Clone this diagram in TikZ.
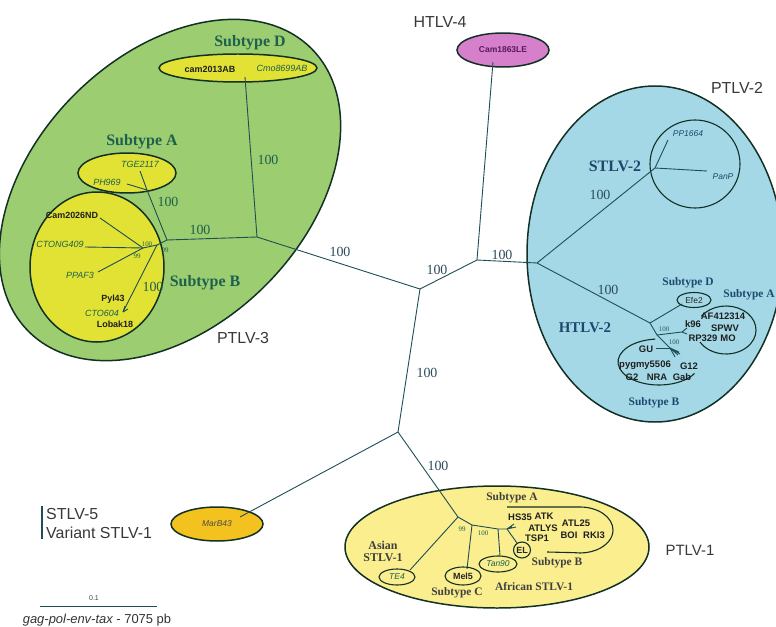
\documentclass[tikz,border=0pt]{standalone}
\usepackage{fontspec}
\setmainfont{Liberation Serif}
\newfontfamily\arialf{Liberation Sans}
\usetikzlibrary{shapes.geometric}
\newcommand\fsz[1]{\fontsize{#1}{#1}\selectfont}
\definecolor{ptlvthree}{RGB}{156,205,112}
\definecolor{subyel}{RGB}{226,226,52}
\definecolor{ptlvtwo}{RGB}{164,216,230}
\definecolor{ptlvone}{RGB}{250,238,142}
\definecolor{htlvfour}{RGB}{214,128,204}
\definecolor{stlvfive}{RGB}{244,194,30}
\definecolor{rim}{RGB}{18,48,36}
\definecolor{branchc}{RGB}{30,78,86}
\definecolor{greenlbl}{RGB}{30,96,78}
\definecolor{bluelbl}{RGB}{30,72,110}
\definecolor{bootc}{RGB}{45,75,90}
\definecolor{purplbl}{RGB}{90,25,95}
\tikzset{
  branch/.style={draw=branchc, line width=0.9pt},
  clade/.style={ellipse, draw=rim, line width=1.5pt, inner sep=0pt},
  ring/.style={ellipse, draw=rim, line width=1.1pt, inner sep=0pt},
  boot/.style={font=\fsz{14}, text=bootc, inner sep=0pt},
  bootsm/.style={font=\fsz{7}, text=greenlbl, inner sep=0pt},
  subt/.style={font=\bfseries\fsz{16}, text=greenlbl, inner sep=0pt},
  subsm/.style={font=\bfseries\fsz{11.5}, inner sep=0pt},
  taxb/.style={font=\arialf\bfseries\fsz{9}, text=black!88, inner sep=0pt},
  taxi/.style={font=\arialf\itshape\fsz{9}, text=greenlbl, inner sep=0pt},
  group/.style={font=\arialf\fsz{16}, text=black!78, inner sep=0pt}
}
\begin{document}
\begin{tikzpicture}[x=1bp, y=-1bp]
\fill[white] (0,0) rectangle (776,627);
\useasboundingbox (0,0) rectangle (776,627);

% clades
\node[clade, fill=ptlvthree, minimum width=400bp, minimum height=270bp, rotate=45] (ptlv3) at (170,190) {};
\node[clade, fill=ptlvtwo, minimum width=256bp, minimum height=336bp] (ptlv2) at (655,254) {};
\node[clade, fill=ptlvone, minimum width=304bp, minimum height=122bp] (ptlv1) at (497,547) {};
\node[clade, fill=subyel, minimum width=158bp, minimum height=28bp] (yelD) at (238,68) {};
\node[clade, fill=subyel, minimum width=98bp, minimum height=40bp] (yelA) at (127,173) {};
\node[clade, fill=subyel, minimum width=134bp, minimum height=150bp] (yelB) at (97,267) {};
\node[clade, fill=htlvfour, minimum width=92bp, minimum height=34bp, font=\arialf\bfseries\fsz{8.5}, text=purplbl] (cam1863) at (503,50) {Cam1863LE};
\node[clade, fill=stlvfive, minimum width=92bp, minimum height=34bp, font=\arialf\itshape\fsz{8.5}, text=black!70] (marb) at (217,524) {MarB43};
\node[ring, minimum width=90bp, minimum height=88bp] (stlv2ring) at (695,164) {};

% tree nodes
\coordinate (c0) at (420,289);
\coordinate (n1) at (477,260);
\coordinate (l4) at (493,62);
\coordinate (n2) at (537,263);
\coordinate (n3) at (655,168);
\coordinate (lpp) at (668,140);
\coordinate (lpan) at (707,171);
\coordinate (n4) at (650,323);
\coordinate (lefe) at (682,304);
\coordinate (n5) at (657,335);
\coordinate (lk96) at (682,332);
\coordinate (n6) at (670,348);
\coordinate (lgu) at (656,348);
\coordinate (n7) at (257,237);
\coordinate (ld) at (245,77);
\coordinate (n8) at (167,240);
\coordinate (n9) at (147,190);
\coordinate (ltge) at (140,171);
\coordinate (lph) at (127,184);
\coordinate (n10) at (157,245);
\coordinate (n11) at (143,248);
\coordinate (lcam) at (100,218);
\coordinate (lcton) at (85,247);
\coordinate (lppaf) at (98,272);
\coordinate (lcto) at (123,312);
\coordinate (n13) at (398,432);
\coordinate (lmar) at (240,517);
\coordinate (n14) at (458,517);
\coordinate (lte) at (410,570);
\coordinate (n15) at (472,525);
\coordinate (lmel) at (467,569);
\coordinate (n16) at (498,529);
\coordinate (ltan) at (500,556);
\coordinate (n17) at (507,529);
\coordinate (lel) at (517,543);

% branches
\draw[branch] (c0) -- (n1);
\draw[branch] (n1) -- (l4);
\draw[branch] (n1) -- (n2);
\draw[branch] (n2) -- (n3);
\draw[branch] (n3) -- (lpp);
\draw[branch] (n3) -- (lpan);
\draw[branch] (n2) -- (n4);
\draw[branch] (n4) -- (lefe);
\draw[branch] (n4) -- (n5) -- (n6);
\draw[branch] (n5) -- (lk96);
\draw[branch] (lk96) -- ++(5,-4) (lk96) -- ++(5,2);
\draw[branch] (lgu) -- (n6);
\draw[branch] (n6) -- ++(9,4) (n6) -- ++(8,7) (n6) -- ++(5,9) (n6) -- ++(10,6);
\draw[branch] (c0) -- (n7);
\draw[branch] (n7) -- (ld);
\draw[branch] (n7) -- (n8);
\draw[branch] (n8) -- (n9);
\draw[branch] (n9) -- (ltge);
\draw[branch] (n9) -- (lph);
\draw[branch] (n8) -- (n10) -- (n11);
\draw[branch] (n11) -- (lcam);
\draw[branch] (n11) -- (lcton);
\draw[branch] (n11) -- (lppaf);
\draw[branch] (n10) -- (lcto);
\draw[branch] (lcto) -- ++(2,-6) (lcto) -- ++(5,-3);
\draw[branch] (c0) -- (n13);
\draw[branch] (n13) -- (lmar);
\draw[branch] (n13) -- (n14);
\draw[branch] (n14) -- (lte);
\draw[branch] (n14) -- (n15) -- (n16) -- (n17);
\draw[branch] (n15) -- (lmel);
\draw[branch] (n16) -- (ltan);
\draw[branch] (n17) -- (lel);
\draw[branch] (n17) -- ++(7,-5) (n17) -- ++(9,-2) (n17) -- ++(5,-2);

% subtype loops
\draw[draw=rim, line width=1.1pt] (726,330) ++(-145:30 and 24) arc[start angle=-145, end angle=150, x radius=30, y radius=24];
\draw[draw=rim, line width=1.1pt] (659,362) ++(-95:41 and 23) arc[start angle=-95, end angle=-330, x radius=41, y radius=23];
\draw[draw=rim, line width=1.1pt] (507,507) -- (580,507) arc[start angle=-90, end angle=100, x radius=33, y radius=23] -- (547,552);

% PTLV-3 labels
\node[subt] (tD) at (250,43) {Subtype D};
\node[taxb] (tcam13) at (210,69) {cam2013AB};
\node[taxi] (tcmo) at (282,68) {Cmo8699AB};
\node[boot, text=greenlbl] (bD) at (268,160) {100};
\node[subt] (tA) at (142,142) {Subtype A};
\node[taxi] (ttge) at (140,164) {TGE2117};
\node[taxi] (tph) at (107,182) {PH969};
\node[boot, text=greenlbl] (bA) at (168,202) {100};
\node[boot, text=greenlbl] (bAB) at (200,230) {100};
\node[taxb] (tcam26) at (72,215) {Cam2026ND};
\node[taxi] (tcton) at (60,244) {CTONG409};
\node[taxi] (tppaf) at (80,275) {PPAF3};
\node[taxb] (tpyl) at (113,299) {Pyl43};
\node[taxi] (tcto) at (102,313) {CTO604};
\node[taxb] (tlob) at (115,324) {Lobak18};
\node[subt] (tB) at (205,283) {Subtype B};
\node[boot, text=greenlbl] (bB) at (153,287) {100};
\node[bootsm] (bB1) at (147,244) {100};
\node[bootsm] (bB2) at (137,256) {99};
\node[bootsm] (bB3) at (165,250) {99};
\node[group] (gp3) at (243,338) {PTLV-3};

% backbone labels
\node[boot] (b1) at (340,252) {100};
\node[boot] (b2) at (437,270) {100};
\node[boot] (b3) at (502,255) {100};
\node[boot] (b4) at (427,373) {100};
\node[boot] (b5) at (438,466) {100};
\node[group] (gh4) at (440,22) {HTLV-4};

% PTLV-2 labels
\node[group] (gp2) at (737,88) {PTLV-2};
\node[subt, text=bluelbl] (tstlv2) at (615,166) {STLV-2};
\node[boot] (bS) at (600,195) {100};
\node[taxi, text=bluelbl, font=\arialf\itshape\fsz{8.5}] (tpp) at (688,134) {PP1664};
\node[taxi, text=bluelbl, font=\arialf\itshape\fsz{8.5}] (tpan) at (723,177) {PanP};
\node[boot] (bH) at (608,290) {100};
\node[subt, text=bluelbl, font=\bfseries\fsz{15}] (thtlv2) at (585,328) {HTLV-2};
\node[subsm, text=bluelbl] (tHD) at (688,283) {Subtype D};
\node[ring, minimum width=34bp, minimum height=15bp, font=\arialf\fsz{8.5}, text=black!85] (efe) at (694,300) {Efe2};
\node[subsm, text=bluelbl] (tHA) at (749,295) {Subtype A};
\node[taxb, font=\arialf\bfseries\fsz{9.5}] (taf) at (723,316) {AF412314};
\node[taxb, font=\arialf\bfseries\fsz{9.5}] (tk96) at (693,324) {k96};
\node[taxb, font=\arialf\bfseries\fsz{9.5}] (tspwv) at (725,328) {SPWV};
\node[taxb, font=\arialf\bfseries\fsz{9.5}] (trp) at (703,338) {RP329};
\node[taxb, font=\arialf\bfseries\fsz{9.5}] (tmo) at (728,338) {MO};
\node[bootsm] (bH1) at (664,329) {100};
\node[bootsm] (bH2) at (674,342) {100};
\node[taxb, font=\arialf\bfseries\fsz{9.5}] (tgu) at (646,349) {GU};
\node[taxb, font=\arialf\bfseries\fsz{9.5}] (tpyg) at (645,365) {pygmy5506};
\node[taxb, font=\arialf\bfseries\fsz{9.5}] (tg12) at (689,366) {G12};
\node[taxb, font=\arialf\bfseries\fsz{9.5}] (tg2) at (632,377) {G2};
\node[taxb, font=\arialf\bfseries\fsz{9.5}] (tnra) at (657,377) {NRA};
\node[taxb, font=\arialf\bfseries\fsz{9.5}] (tgab) at (682,377) {Gab};
\node[subsm, text=bluelbl] (tHB) at (654,403) {Subtype B};

% PTLV-1 labels
\node[group, font=\arialf\fsz{15}] (gp1) at (690,550) {PTLV-1};
\node[subsm, text=black!75] (t1A) at (512,498) {Subtype A};
\node[taxb, font=\arialf\bfseries\fsz{9.5}] (ths) at (520,517) {HS35};
\node[taxb, font=\arialf\bfseries\fsz{9.5}] (tatk) at (544,516) {ATK};
\node[taxb, font=\arialf\bfseries\fsz{9.5}] (tatl) at (543,528) {ATLYS};
\node[taxb, font=\arialf\bfseries\fsz{9.5}] (ttsp) at (537,538) {TSP1};
\node[taxb, font=\arialf\bfseries\fsz{9.5}] (tatl25) at (576,523) {ATL25};
\node[taxb, font=\arialf\bfseries\fsz{9.5}] (tboi) at (569,535) {BOI};
\node[taxb, font=\arialf\bfseries\fsz{9.5}] (trki) at (594,535) {RKI3};
\node[ring, minimum width=17bp, minimum height=16bp, font=\arialf\bfseries\fsz{9}, text=black!85] (el) at (522,550) {EL};
\node[subsm, text=black!75] (t1B) at (557,563) {Subtype B};
\node[subsm, text=black!75, align=center, font=\bfseries\fsz{12}] (tasian) at (383,551) {Asian\\STLV-1};
\node[ring, minimum width=36bp, minimum height=16bp, font=\arialf\itshape\fsz{8.5}, text=greenlbl] (te4) at (397,577) {TE4};
\node[ring, minimum width=36bp, minimum height=18bp, font=\arialf\bfseries\fsz{9}, text=black!85] (mel) at (463,576) {Mel5};
\node[ring, minimum width=38bp, minimum height=16bp, font=\arialf\itshape\fsz{8.5}, text=greenlbl] (tan) at (498,564) {Tan90};
\node[subsm, text=black!75] (t1C) at (457,593) {Subtype C};
\node[subsm, text=black!75] (tafr) at (534,587) {African STLV-1};
\node[bootsm] (b1a) at (462,529) {99};
\node[bootsm] (b1b) at (483,533) {100};

% legend
\coordinate (lgtop) at (42,506);
\coordinate (lgbot) at (42,539);
\draw[draw=branchc, line width=1.2pt] (lgtop) -- (lgbot);
\node[group, anchor=west] (tst5) at (46,514) {STLV-5};
\node[group, anchor=west] (tvar) at (46,533) {Variant STLV-1};
\coordinate (sbl) at (40,606);
\coordinate (sbr) at (157,606);
\draw[draw=branchc, line width=1pt] (sbl) -- (sbr);
\node[font=\arialf\fsz{7}, text=bootc] (t01) at (94,598) {0.1};
\node[font=\arialf\fsz{13}, text=black!80] (tgag) at (97,620) {\itshape gag-pol-env-tax\upshape{} - 7075 pb};
\end{tikzpicture}
\end{document}
